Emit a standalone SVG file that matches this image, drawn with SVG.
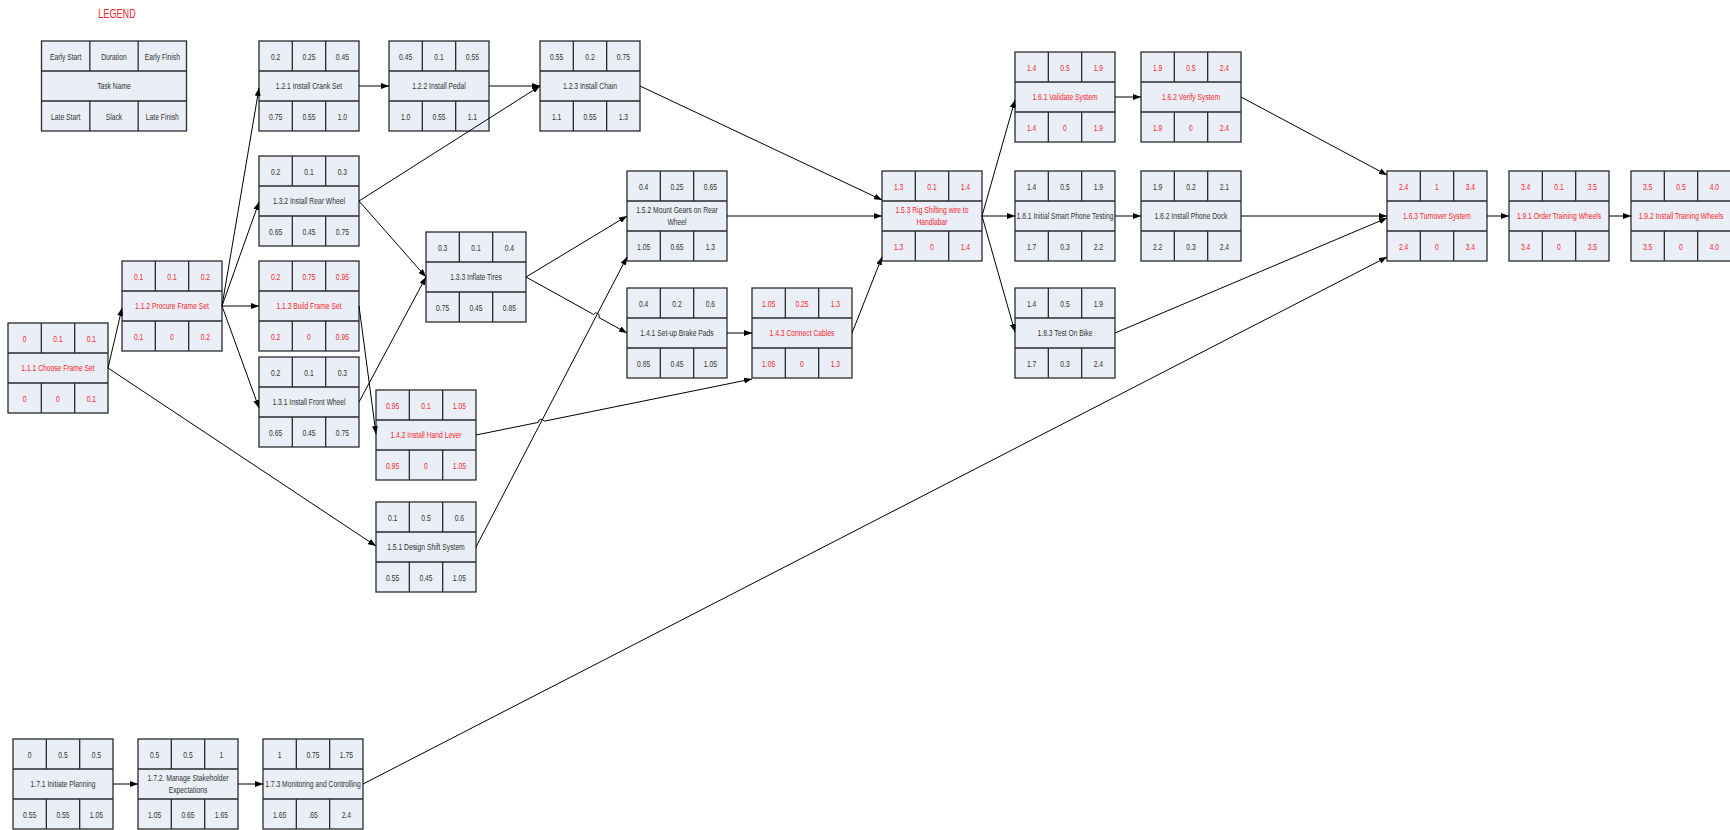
<svg xmlns="http://www.w3.org/2000/svg" xmlns:xlink="http://www.w3.org/1999/xlink" width="1730" height="830" viewBox="0 0 1730 830">
<style>
.bx{fill:#E9EEF7;stroke:#2b2b2b;stroke-width:1.3}
.gl{fill:none;stroke:#2b2b2b;stroke-width:1.3}
text{font-family:"Liberation Sans",Arial,sans-serif;font-size:9px;fill:#333;text-anchor:middle}
.r text{fill:#F5262B}
.e path{fill:none;stroke:#000;stroke-width:1;marker-end:url(#a)}
.lg{font-size:13px;fill:#F5262B}
</style>
<defs>
<marker id="a" markerWidth="8" markerHeight="6" refX="8" refY="3" orient="auto" markerUnits="userSpaceOnUse"><path d="M0,0 L8,3 L0,6 z" fill="#000"/></marker>
<g id="box"><rect class="bx" x="0" y="0" width="100" height="90"/><path class="gl" d="M0,30H100M0,60H100M33.33,0V30M66.67,0V30M33.33,60V90M66.67,60V90"/></g>
</defs>
<rect width="1730" height="830" fill="#fff"/>
<text class="lg" transform="translate(117,17.5) scale(.7,1)">LEGEND</text>
<g id="legend" transform="translate(41.5,41)">
<rect class="bx" x="0" y="0" width="145" height="90"/><path class="gl" d="M0,30H145M0,60H145M48.33,0V30M96.67,0V30M48.33,60V90M96.67,60V90"/>
<g transform="scale(.75,1)"><text x="32.22" y="19">Early Start</text><text x="96.67" y="19">Duration</text><text x="161.11" y="19">Early Finish</text><text x="96.67" y="48.5">Task Name</text><text x="32.22" y="79">Late Start</text><text x="96.67" y="79">Slack</text><text x="161.11" y="79">Late Finish</text></g>
</g>
<g id="n111" class="r" transform="translate(8,323)"><use xlink:href="#box"/><g transform="scale(.75,1)"><text x="22.22" y="19">0</text><text x="66.67" y="19">0.1</text><text x="111.11" y="19">0.1</text><text x="66.67" y="48.5">1.1.1 Choose Frame Set</text><text x="22.22" y="79">0</text><text x="66.67" y="79">0</text><text x="111.11" y="79">0.1</text></g></g>
<g id="n112" class="r" transform="translate(122,261)"><use xlink:href="#box"/><g transform="scale(.75,1)"><text x="22.22" y="19">0.1</text><text x="66.67" y="19">0.1</text><text x="111.11" y="19">0.2</text><text x="66.67" y="48.5">1.1.2 Procure Frame Set</text><text x="22.22" y="79">0.1</text><text x="66.67" y="79">0</text><text x="111.11" y="79">0.2</text></g></g>
<g id="n121" transform="translate(259,41)"><use xlink:href="#box"/><g transform="scale(.75,1)"><text x="22.22" y="19">0.2</text><text x="66.67" y="19">0.25</text><text x="111.11" y="19">0.45</text><text x="66.67" y="48.5">1.2.1 Install Crank Set</text><text x="22.22" y="79">0.75</text><text x="66.67" y="79">0.55</text><text x="111.11" y="79">1.0</text></g></g>
<g id="n132" transform="translate(259,156)"><use xlink:href="#box"/><g transform="scale(.75,1)"><text x="22.22" y="19">0.2</text><text x="66.67" y="19">0.1</text><text x="111.11" y="19">0.3</text><text x="66.67" y="48.5">1.3.2 Install Rear Wheel</text><text x="22.22" y="79">0.65</text><text x="66.67" y="79">0.45</text><text x="111.11" y="79">0.75</text></g></g>
<g id="n113" class="r" transform="translate(259,261)"><use xlink:href="#box"/><g transform="scale(.75,1)"><text x="22.22" y="19">0.2</text><text x="66.67" y="19">0.75</text><text x="111.11" y="19">0.95</text><text x="66.67" y="48.5">1.1.3 Build Frame Set</text><text x="22.22" y="79">0.2</text><text x="66.67" y="79">0</text><text x="111.11" y="79">0.95</text></g></g>
<g id="n131" transform="translate(259,357)"><use xlink:href="#box"/><g transform="scale(.75,1)"><text x="22.22" y="19">0.2</text><text x="66.67" y="19">0.1</text><text x="111.11" y="19">0.3</text><text x="66.67" y="48.5">1.3.1 Install Front Wheel</text><text x="22.22" y="79">0.65</text><text x="66.67" y="79">0.45</text><text x="111.11" y="79">0.75</text></g></g>
<g id="n122" transform="translate(389,41)"><use xlink:href="#box"/><g transform="scale(.75,1)"><text x="22.22" y="19">0.45</text><text x="66.67" y="19">0.1</text><text x="111.11" y="19">0.55</text><text x="66.67" y="48.5">1.2.2 Install Pedal</text><text x="22.22" y="79">1.0</text><text x="66.67" y="79">0.55</text><text x="111.11" y="79">1.1</text></g></g>
<g id="n123" transform="translate(540,41)"><use xlink:href="#box"/><g transform="scale(.75,1)"><text x="22.22" y="19">0.55</text><text x="66.67" y="19">0.2</text><text x="111.11" y="19">0.75</text><text x="66.67" y="48.5">1.2.3 Install Chain</text><text x="22.22" y="79">1.1</text><text x="66.67" y="79">0.55</text><text x="111.11" y="79">1.3</text></g></g>
<g id="n133" transform="translate(426,232)"><use xlink:href="#box"/><g transform="scale(.75,1)"><text x="22.22" y="19">0.3</text><text x="66.67" y="19">0.1</text><text x="111.11" y="19">0.4</text><text x="66.67" y="48.5">1.3.3 Inflate Tires</text><text x="22.22" y="79">0.75</text><text x="66.67" y="79">0.45</text><text x="111.11" y="79">0.85</text></g></g>
<g id="n142" class="r" transform="translate(376,390)"><use xlink:href="#box"/><g transform="scale(.75,1)"><text x="22.22" y="19">0.95</text><text x="66.67" y="19">0.1</text><text x="111.11" y="19">1.05</text><text x="66.67" y="48.5">1.4.2 Install Hand Lever</text><text x="22.22" y="79">0.95</text><text x="66.67" y="79">0</text><text x="111.11" y="79">1.05</text></g></g>
<g id="n151" transform="translate(376,502)"><use xlink:href="#box"/><g transform="scale(.75,1)"><text x="22.22" y="19">0.1</text><text x="66.67" y="19">0.5</text><text x="111.11" y="19">0.6</text><text x="66.67" y="48.5">1.5.1 Design Shift System</text><text x="22.22" y="79">0.55</text><text x="66.67" y="79">0.45</text><text x="111.11" y="79">1.05</text></g></g>
<g id="n152" transform="translate(627,171)"><use xlink:href="#box"/><g transform="scale(.75,1)"><text x="22.22" y="19">0.4</text><text x="66.67" y="19">0.25</text><text x="111.11" y="19">0.65</text><text x="66.67" y="42.5">1.5.2 Mount Gears on Rear</text><text x="66.67" y="54.5">Wheel</text><text x="22.22" y="79">1.05</text><text x="66.67" y="79">0.65</text><text x="111.11" y="79">1.3</text></g></g>
<g id="n141" transform="translate(627,288)"><use xlink:href="#box"/><g transform="scale(.75,1)"><text x="22.22" y="19">0.4</text><text x="66.67" y="19">0.2</text><text x="111.11" y="19">0.6</text><text x="66.67" y="48.5">1.4.1 Set-up Brake Pads</text><text x="22.22" y="79">0.85</text><text x="66.67" y="79">0.45</text><text x="111.11" y="79">1.05</text></g></g>
<g id="n143" class="r" transform="translate(752,288)"><use xlink:href="#box"/><g transform="scale(.75,1)"><text x="22.22" y="19">1.05</text><text x="66.67" y="19">0.25</text><text x="111.11" y="19">1.3</text><text x="66.67" y="48.5">1.4.3 Connect Cables</text><text x="22.22" y="79">1.05</text><text x="66.67" y="79">0</text><text x="111.11" y="79">1.3</text></g></g>
<g id="n153" class="r" transform="translate(882,171)"><use xlink:href="#box"/><g transform="scale(.75,1)"><text x="22.22" y="19">1.3</text><text x="66.67" y="19">0.1</text><text x="111.11" y="19">1.4</text><text x="66.67" y="42.5">1.5.3 Rig Shifting wire to</text><text x="66.67" y="54.5">Handlabar</text><text x="22.22" y="79">1.3</text><text x="66.67" y="79">0</text><text x="111.11" y="79">1.4</text></g></g>
<g id="n161" class="r" transform="translate(1015,52)"><use xlink:href="#box"/><g transform="scale(.75,1)"><text x="22.22" y="19">1.4</text><text x="66.67" y="19">0.5</text><text x="111.11" y="19">1.9</text><text x="66.67" y="48.5">1.6.1 Validate System</text><text x="22.22" y="79">1.4</text><text x="66.67" y="79">0</text><text x="111.11" y="79">1.9</text></g></g>
<g id="n181" transform="translate(1015,171)"><use xlink:href="#box"/><g transform="scale(.75,1)"><text x="22.22" y="19">1.4</text><text x="66.67" y="19">0.5</text><text x="111.11" y="19">1.9</text><text x="66.67" y="48.5">1.8.1 Initial Smart Phone Testing</text><text x="22.22" y="79">1.7</text><text x="66.67" y="79">0.3</text><text x="111.11" y="79">2.2</text></g></g>
<g id="n183" transform="translate(1015,288)"><use xlink:href="#box"/><g transform="scale(.75,1)"><text x="22.22" y="19">1.4</text><text x="66.67" y="19">0.5</text><text x="111.11" y="19">1.9</text><text x="66.67" y="48.5">1.8.3 Test On Bike</text><text x="22.22" y="79">1.7</text><text x="66.67" y="79">0.3</text><text x="111.11" y="79">2.4</text></g></g>
<g id="n162" class="r" transform="translate(1141,52)"><use xlink:href="#box"/><g transform="scale(.75,1)"><text x="22.22" y="19">1.9</text><text x="66.67" y="19">0.5</text><text x="111.11" y="19">2.4</text><text x="66.67" y="48.5">1.6.2 Verify System</text><text x="22.22" y="79">1.9</text><text x="66.67" y="79">0</text><text x="111.11" y="79">2.4</text></g></g>
<g id="n182" transform="translate(1141,171)"><use xlink:href="#box"/><g transform="scale(.75,1)"><text x="22.22" y="19">1.9</text><text x="66.67" y="19">0.2</text><text x="111.11" y="19">2.1</text><text x="66.67" y="48.5">1.8.2 Install Phone Dock</text><text x="22.22" y="79">2.2</text><text x="66.67" y="79">0.3</text><text x="111.11" y="79">2.4</text></g></g>
<g id="n163" class="r" transform="translate(1387,171)"><use xlink:href="#box"/><g transform="scale(.75,1)"><text x="22.22" y="19">2.4</text><text x="66.67" y="19">1</text><text x="111.11" y="19">3.4</text><text x="66.67" y="48.5">1.6.3 Turnover System</text><text x="22.22" y="79">2.4</text><text x="66.67" y="79">0</text><text x="111.11" y="79">3.4</text></g></g>
<g id="n191" class="r" transform="translate(1509,171)"><use xlink:href="#box"/><g transform="scale(.75,1)"><text x="22.22" y="19">3.4</text><text x="66.67" y="19">0.1</text><text x="111.11" y="19">3.5</text><text x="66.67" y="48.5">1.9.1 Order Training Wheels</text><text x="22.22" y="79">3.4</text><text x="66.67" y="79">0</text><text x="111.11" y="79">3.5</text></g></g>
<g id="n192" class="r" transform="translate(1631,171)"><use xlink:href="#box"/><g transform="scale(.75,1)"><text x="22.22" y="19">3.5</text><text x="66.67" y="19">0.5</text><text x="111.11" y="19">4.0</text><text x="66.67" y="48.5">1.9.2 Install Training Wheels</text><text x="22.22" y="79">3.5</text><text x="66.67" y="79">0</text><text x="111.11" y="79">4.0</text></g></g>
<g id="n171" transform="translate(13,739)"><use xlink:href="#box"/><g transform="scale(.75,1)"><text x="22.22" y="19">0</text><text x="66.67" y="19">0.5</text><text x="111.11" y="19">0.5</text><text x="66.67" y="48.5">1.7.1 Initiate Planning</text><text x="22.22" y="79">0.55</text><text x="66.67" y="79">0.55</text><text x="111.11" y="79">1.05</text></g></g>
<g id="n172" transform="translate(138,739)"><use xlink:href="#box"/><g transform="scale(.75,1)"><text x="22.22" y="19">0.5</text><text x="66.67" y="19">0.5</text><text x="111.11" y="19">1</text><text x="66.67" y="42.5">1.7.2. Manage Stakeholder</text><text x="66.67" y="54.5">Expectations</text><text x="22.22" y="79">1.05</text><text x="66.67" y="79">0.65</text><text x="111.11" y="79">1.65</text></g></g>
<g id="n173" transform="translate(263,739)"><use xlink:href="#box"/><g transform="scale(.75,1)"><text x="22.22" y="19">1</text><text x="66.67" y="19">0.75</text><text x="111.11" y="19">1.75</text><text x="66.67" y="48.5">1.7.3 Monitoring and Controlling</text><text x="22.22" y="79">1.65</text><text x="66.67" y="79">.65</text><text x="111.11" y="79">2.4</text></g></g>
<g id="edges" class="e">
<path d="M108,368 L122,308"/>
<path d="M108,368 L376,546"/>
<path d="M222,306 L259,88"/>
<path d="M222,306 L259,202"/>
<path d="M222,306 L259,306"/>
<path d="M222,306 L259,408"/>
<path d="M359,86 L389,86"/>
<path d="M489,86 L540,86"/>
<path d="M359,201 L540,86"/>
<path d="M359,201 L426,277"/>
<path d="M359,402 L426,277"/>
<path d="M359,306 L376,434"/>
<path d="M526,277 L627,216"/>
<path d="M526,277 L593.7,314.5 A3,3 0 0 1 598.9,317.5 L627,333"/>
<path d="M476,547 L627,257"/>
<path d="M476,435 L538.3,422.4 A3,3 0 0 1 544.1,421.2 L752,379"/>
<path d="M727,333 L752,333"/>
<path d="M852,333 L882,257"/>
<path d="M727,216 L882,216"/>
<path d="M640,86 L882,200"/>
<path d="M982,216 L1015,100"/>
<path d="M982,216 L1015,216"/>
<path d="M982,216 L1015,332"/>
<path d="M1115,97 L1141,97"/>
<path d="M1115,216 L1141,216"/>
<path d="M1241,97 L1387,175"/>
<path d="M1241,216 L1387,216"/>
<path d="M1115,333 L1387,218"/>
<path d="M363,784 L1387,257"/>
<path d="M1487,216 L1509,216"/>
<path d="M1609,216 L1631,216"/>
<path d="M113,784 L138,784"/>
<path d="M238,784 L263,784"/>
</g>
</svg>
